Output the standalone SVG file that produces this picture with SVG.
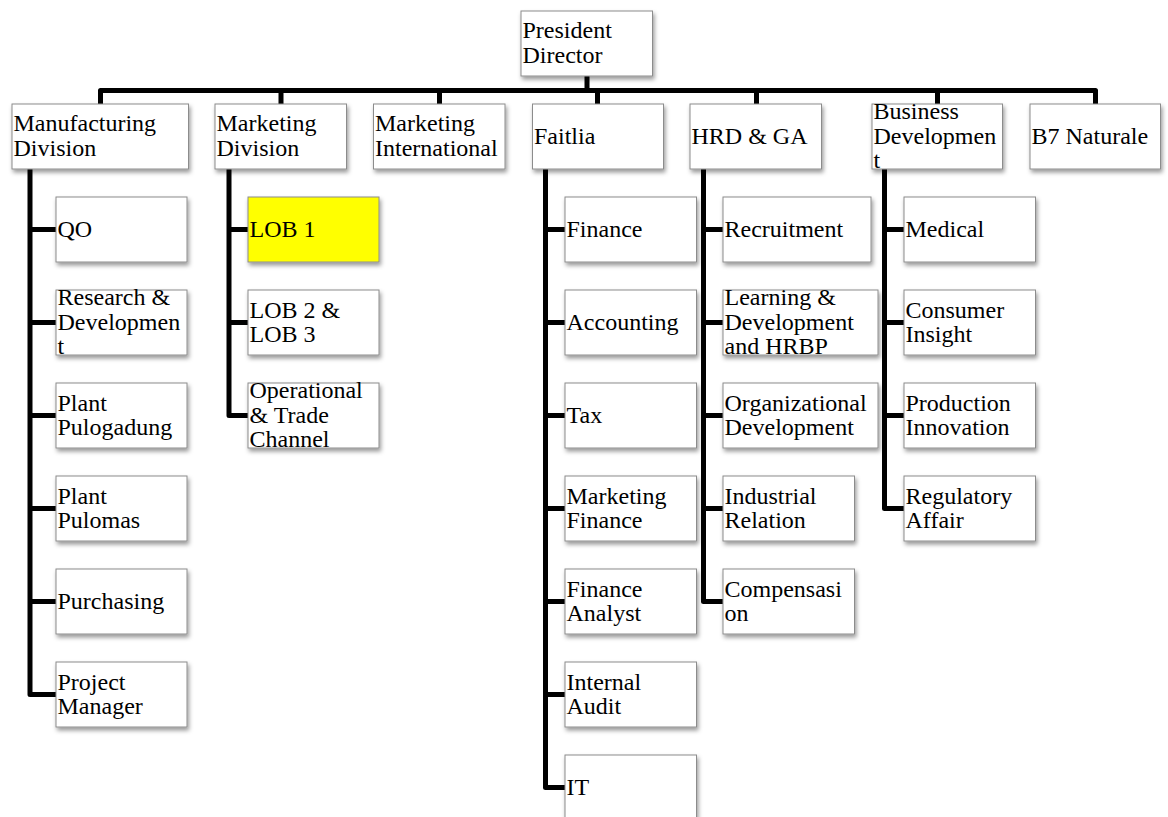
<svg xmlns="http://www.w3.org/2000/svg" width="1168" height="817" viewBox="0 0 1168 817">
<defs>
<filter id="sh" x="-10%" y="-20%" width="130%" height="150%">
<feDropShadow dx="1.5" dy="3" stdDeviation="2" flood-color="#000" flood-opacity="0.4"/>
</filter>
<style>
.b{fill:#fff;stroke:#8c8c8c;stroke-width:1;filter:url(#sh)}
.y{fill:#ffff00}
.t{font-family:"Liberation Serif","Times New Roman",serif;font-size:24px;fill:#000}
.c{fill:none;stroke:#000;stroke-width:5;stroke-linejoin:round}
</style>
</defs>
<rect width="1168" height="817" fill="#fff"/>
<g id="connectors">
<path class="c" d="M587,76 V90.5"/>
<path class="c" d="M100.5,104 V90.5 H1095.5 V104"/>
<path class="c" d="M281,90.5 V104 M439.5,90.5 V104 M597.5,90.5 V104 M756.5,90.5 V104 M937.5,90.5 V104"/>
<path class="c" d="M30,169 V694.5 H56 M30,229.5 H56 M30,322.5 H56 M30,415.5 H56 M30,508.5 H56 M30,601.5 H56"/>
<path class="c" d="M229,169 V415.5 H248 M229,229.5 H248 M229,322.5 H248"/>
<path class="c" d="M545.5,169 V787.5 H565 M545.5,229.5 H565 M545.5,322.5 H565 M545.5,415.5 H565 M545.5,508.5 H565 M545.5,601.5 H565 M545.5,694.5 H565"/>
<path class="c" d="M703.5,169 V601.5 H723 M703.5,229.5 H723 M703.5,322.5 H723 M703.5,415.5 H723 M703.5,508.5 H723"/>
<path class="c" d="M884.5,169 V508.5 H904 M884.5,229.5 H904 M884.5,322.5 H904 M884.5,415.5 H904"/>
</g>
<g id="president"><rect class="b" x="521" y="11" width="131.5" height="65"/><text class="t"><tspan x="522.5" y="38">President</tspan><tspan x="522.5" y="62.5">Director</tspan></text></g>
<g id="manufacturing"><rect class="b" x="12" y="104" width="176.5" height="65"/><text class="t"><tspan x="13.5" y="131">Manufacturing</tspan><tspan x="13.5" y="155.5">Division</tspan></text></g>
<g id="marketing"><rect class="b" x="215" y="104" width="131.5" height="65"/><text class="t"><tspan x="216.5" y="131">Marketing</tspan><tspan x="216.5" y="155.5">Division</tspan></text></g>
<g id="marketing-intl"><rect class="b" x="373.5" y="104" width="131.5" height="65"/><text class="t"><tspan x="375" y="131">Marketing</tspan><tspan x="375" y="155.5">International</tspan></text></g>
<g id="faitlia"><rect class="b" x="532.5" y="104" width="131" height="65"/><text class="t" x="534" y="143.5">Faitlia</text></g>
<g id="hrd"><rect class="b" x="690" y="104" width="131.5" height="65"/><text class="t" x="691.5" y="143.5">HRD &amp; GA</text></g>
<g id="bizdev"><rect class="b" x="872" y="104" width="130.5" height="65"/><text class="t"><tspan x="873.5" y="119">Business</tspan><tspan x="873.5" y="143.5">Developmen</tspan><tspan x="873.5" y="168">t</tspan></text></g>
<g id="b7"><rect class="b" x="1030" y="104" width="130.5" height="65"/><text class="t" x="1031.5" y="143.5">B7 Naturale</text></g>

<g id="qo"><rect class="b" x="56" y="197" width="131" height="65"/><text class="t" x="57.5" y="236.5">QO</text></g>
<g id="rnd"><rect class="b" x="56" y="290" width="131" height="65"/><text class="t"><tspan x="57.5" y="305">Research &amp;</tspan><tspan x="57.5" y="329.5">Developmen</tspan><tspan x="57.5" y="354">t</tspan></text></g>
<g id="pulogadung"><rect class="b" x="56" y="383" width="131" height="65"/><text class="t"><tspan x="57.5" y="410.5">Plant</tspan><tspan x="57.5" y="435">Pulogadung</tspan></text></g>
<g id="pulomas"><rect class="b" x="56" y="476" width="131" height="65"/><text class="t"><tspan x="57.5" y="503.5">Plant</tspan><tspan x="57.5" y="528">Pulomas</tspan></text></g>
<g id="purchasing"><rect class="b" x="56" y="569" width="131" height="65"/><text class="t" x="57.5" y="608.5">Purchasing</text></g>
<g id="pm"><rect class="b" x="56" y="662" width="131" height="65"/><text class="t"><tspan x="57.5" y="689.5">Project</tspan><tspan x="57.5" y="714">Manager</tspan></text></g>

<g id="lob1"><rect class="b y" x="248" y="197" width="131" height="65"/><text class="t" x="249.5" y="236.5">LOB 1</text></g>
<g id="lob23"><rect class="b" x="248" y="290" width="131" height="65"/><text class="t"><tspan x="249.5" y="317.5">LOB 2 &amp;</tspan><tspan x="249.5" y="342">LOB 3</tspan></text></g>
<g id="optrade"><rect class="b" x="248" y="383" width="131" height="65"/><text class="t"><tspan x="249.5" y="398">Operational</tspan><tspan x="249.5" y="422.5">&amp; Trade</tspan><tspan x="249.5" y="447">Channel</tspan></text></g>

<g id="finance"><rect class="b" x="565" y="197" width="131.5" height="65"/><text class="t" x="566.5" y="236.5">Finance</text></g>
<g id="accounting"><rect class="b" x="565" y="290" width="131.5" height="65"/><text class="t" x="566.5" y="329.5">Accounting</text></g>
<g id="tax"><rect class="b" x="565" y="383" width="131.5" height="65"/><text class="t" x="566.5" y="422.5">Tax</text></g>
<g id="mktfin"><rect class="b" x="565" y="476" width="131.5" height="65"/><text class="t"><tspan x="566.5" y="503.5">Marketing</tspan><tspan x="566.5" y="528">Finance</tspan></text></g>
<g id="finanalyst"><rect class="b" x="565" y="569" width="131.5" height="65"/><text class="t"><tspan x="566.5" y="596.5">Finance</tspan><tspan x="566.5" y="621">Analyst</tspan></text></g>
<g id="audit"><rect class="b" x="565" y="662" width="131.5" height="65"/><text class="t"><tspan x="566.5" y="689.5">Internal</tspan><tspan x="566.5" y="714">Audit</tspan></text></g>
<g id="it"><rect class="b" x="565" y="755" width="131.5" height="65"/><text class="t" x="566.5" y="794.5">IT</text></g>

<g id="recruitment"><rect class="b" x="723" y="197" width="148" height="65"/><text class="t" x="724.5" y="236.5">Recruitment</text></g>
<g id="lnd"><rect class="b" x="723" y="290" width="155" height="65"/><text class="t"><tspan x="724.5" y="305">Learning &amp;</tspan><tspan x="724.5" y="329.5">Development</tspan><tspan x="724.5" y="354">and HRBP</tspan></text></g>
<g id="od"><rect class="b" x="723" y="383" width="155" height="65"/><text class="t"><tspan x="724.5" y="410.5">Organizational</tspan><tspan x="724.5" y="435">Development</tspan></text></g>
<g id="ir"><rect class="b" x="723" y="476" width="131.5" height="65"/><text class="t"><tspan x="724.5" y="503.5">Industrial</tspan><tspan x="724.5" y="528">Relation</tspan></text></g>
<g id="comp"><rect class="b" x="723" y="569" width="131.5" height="65"/><text class="t"><tspan x="724.5" y="596.5">Compensasi</tspan><tspan x="724.5" y="621">on</tspan></text></g>

<g id="medical"><rect class="b" x="904" y="197" width="131.5" height="65"/><text class="t" x="905.5" y="236.5">Medical</text></g>
<g id="consumer"><rect class="b" x="904" y="290" width="131.5" height="65"/><text class="t"><tspan x="905.5" y="317.5">Consumer</tspan><tspan x="905.5" y="342">Insight</tspan></text></g>
<g id="production"><rect class="b" x="904" y="383" width="131.5" height="65"/><text class="t"><tspan x="905.5" y="410.5">Production</tspan><tspan x="905.5" y="435">Innovation</tspan></text></g>
<g id="regulatory"><rect class="b" x="904" y="476" width="131.5" height="65"/><text class="t"><tspan x="905.5" y="503.5">Regulatory</tspan><tspan x="905.5" y="528">Affair</tspan></text></g>
</svg>
